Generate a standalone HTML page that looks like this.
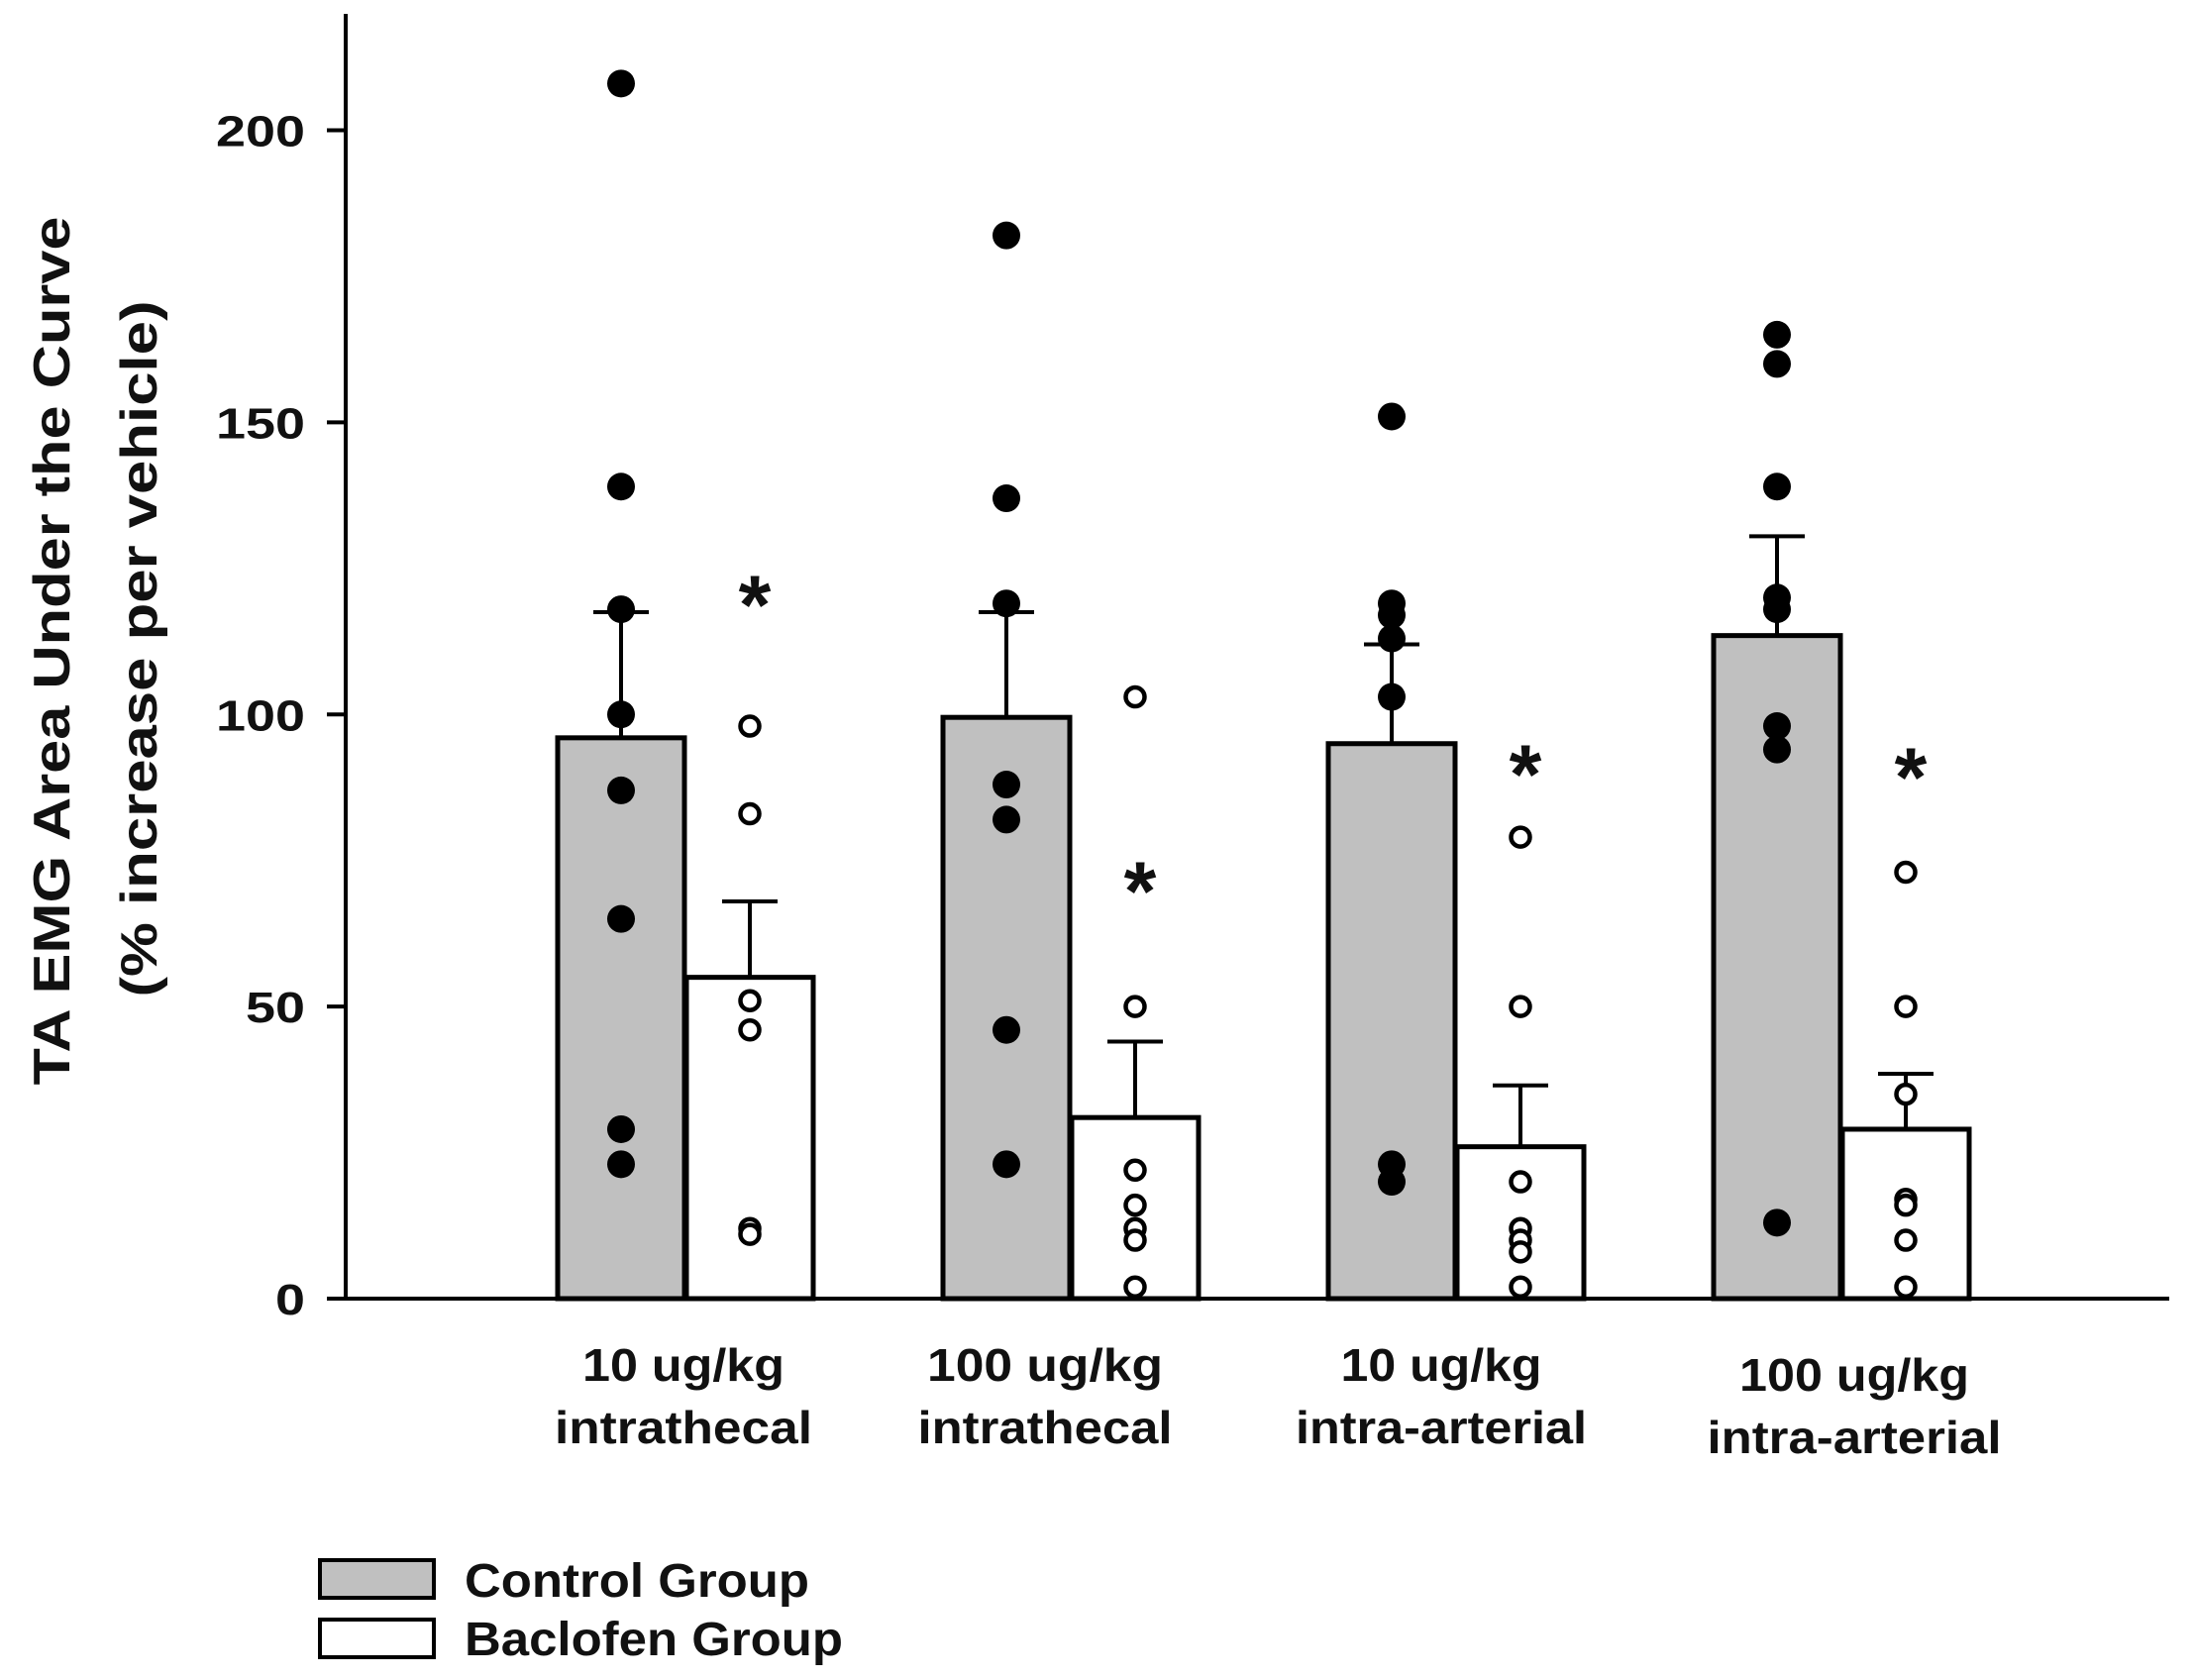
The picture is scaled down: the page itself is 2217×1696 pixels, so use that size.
<!DOCTYPE html>
<html><head><meta charset="utf-8"><style>
html,body{margin:0;padding:0;background:#fff;}
svg text{font-family:"Liberation Sans",Arial,sans-serif;font-weight:bold;fill:#111;}
</style></head><body>
<svg id="chart" width="2217" height="1691" viewBox="0 0 2217 1691" xmlns="http://www.w3.org/2000/svg">
<g id="axes"></g>
<g id="bars"></g>
<g id="pts"></g>
<text transform="translate(70,657) rotate(-90)" text-anchor="middle" font-size="52" textLength="877" lengthAdjust="spacingAndGlyphs">TA EMG Area Under the Curve</text>
<text transform="translate(158,655) rotate(-90)" text-anchor="middle" font-size="52" textLength="703" lengthAdjust="spacingAndGlyphs">(% increase per vehicle)</text>
<g>
<rect x="323" y="1575" width="115" height="38" fill="#c0c0c0" stroke="#000" stroke-width="4"/>
<text x="469" y="1612" font-size="48" textLength="348" lengthAdjust="spacingAndGlyphs">Control Group</text>
<rect x="323" y="1635" width="115" height="38" fill="#fff" stroke="#000" stroke-width="4"/>
<text x="469" y="1671" font-size="48" textLength="382" lengthAdjust="spacingAndGlyphs">Baclofen Group</text>
</g>
</svg>
<script>
const categories1 = ["10 ug/kg","100 ug/kg","10 ug/kg","100 ug/kg"];
const categories2 = ["intrathecal","intrathecal","intra-arterial","intra-arterial"];
const controlMeans = [96, 99.5, 95, 113.5];
const controlErr = [117.5, 117.5, 112, 130.5];
const baclofenMeans = [55, 31, 26, 29];
const baclofenErr = [68, 44, 36.5, 38.5];
const asteriskVals = [120, 71, 91, 90.5];
const controlPts = [[208,139,118,100,87,65,29,23],[182,137,119,88,82,46,23],[151,119,117,113,103,23,20],[165,160,139,120,118,98,94,13]];
const baclofenPts = [[98,83,51,46,12,11],[103,50,22,16,12,10,2],[79,50,20,12,10,8,2],[73,50,35,17,16,10,2]];
const yTicks = [0,50,100,150,200];

const NS="http://www.w3.org/2000/svg";
const y0=1311, pxPer=(1311-131.5)/200;
const Y=v=>y0-v*pxPer;
const X=i=>691+i*389;
const BW=128;
const labelCx=[690,1055,1455,1872];
const len1=[204,238,203,232];
const len2=[260,257,294,297];
function mk(p,tag,attrs,txt){const e=document.createElementNS(NS,tag);for(const k in attrs)e.setAttribute(k,attrs[k]);if(txt!==undefined)e.textContent=txt;p.appendChild(e);return e;}
const axes=document.getElementById('axes'),bars=document.getElementById('bars'),pts=document.getElementById('pts');
let e;
e=mk(axes,'line',{x1:349,y1:14,x2:349,y2:Y(0)+2,stroke:'#000','stroke-width':4});


e=mk(axes,'line',{x1:347,y1:Y(0),x2:2190,y2:Y(0),stroke:'#000','stroke-width':4});


yTicks.forEach(t=>{
 e=mk(axes,'line',{x1:330,y1:Y(t),x2:349,y2:Y(t),stroke:'#000','stroke-width':4});
 
 
 e=mk(axes,'text',{x:308,y:Y(t)+16,'text-anchor':'end','font-size':44,textLength:String(t).length*30,lengthAdjust:'spacingAndGlyphs'},String(t));
 
 
});
categories1.forEach((c,i)=>{
 const dy=i===3?10:0;
 e=mk(axes,'text',{x:labelCx[i],y:1394+dy,'text-anchor':'middle','font-size':46,textLength:len1[i],lengthAdjust:'spacingAndGlyphs'},c);
 
 
 e=mk(axes,'text',{x:labelCx[i],y:1457+dy,'text-anchor':'middle','font-size':46,textLength:len2[i],lengthAdjust:'spacingAndGlyphs'},categories2[i]);
 
 
});
function bar(i,v,err,fill,left,name){
 const x=left?X(i)-BW:X(i)+2;
 const cx=x+BW/2;
 e=mk(bars,'line',{x1:cx,y1:Y(v),x2:cx,y2:Y(err),stroke:'#000','stroke-width':4});
 
 
 e=mk(bars,'line',{x1:cx-28,y1:Y(err),x2:cx+28,y2:Y(err),stroke:'#000','stroke-width':4});
 
 
 e=mk(bars,'rect',{x:x,y:Y(v),width:BW,height:Y(0)-Y(v),fill:fill,stroke:'#000','stroke-width':5});
 
 
 return cx;
}
controlMeans.forEach((v,i)=>{
 const cx=bar(i,v,controlErr[i],'#c0c0c0',true,'control');
 controlPts[i].forEach(p=>{
  e=mk(pts,'circle',{cx:cx,cy:Y(p),r:14,fill:'#000'});
  
  
 });
});
baclofenMeans.forEach((v,i)=>{
 const cx=bar(i,v,baclofenErr[i],'#fff',false,'baclofen');
 baclofenPts[i].forEach(p=>{
  e=mk(pts,'circle',{cx:cx,cy:Y(p),r:9.5,fill:'#fff',stroke:'#000','stroke-width':4.5});
  
  
 });
 e=mk(pts,'text',{x:cx+5,y:Y(asteriskVals[i])+36,'text-anchor':'middle','font-size':84,fill:'#333'},'*');
 
 
});
</script>
</body></html>
